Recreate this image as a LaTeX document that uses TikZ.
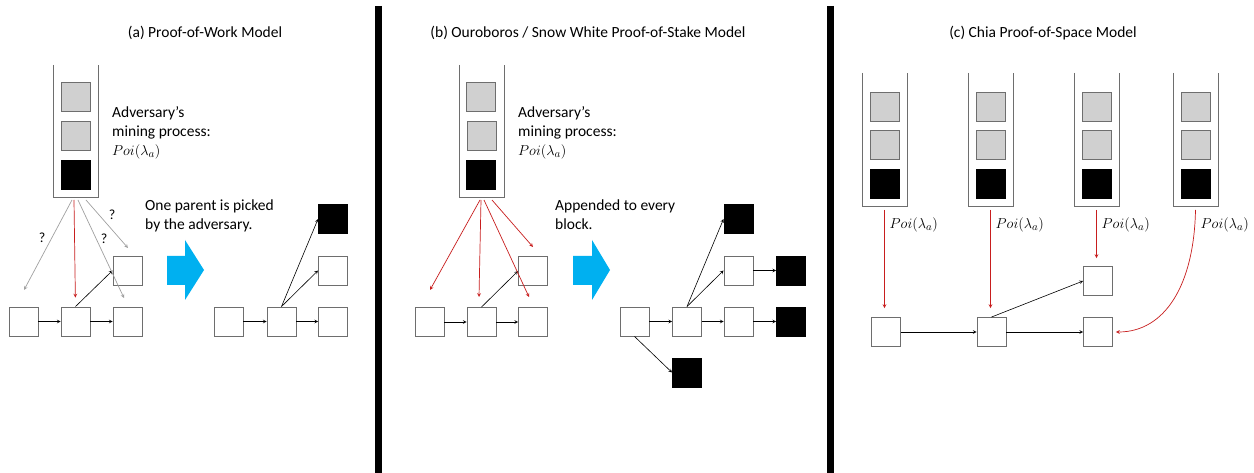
\documentclass[tikz,border=0pt]{standalone}
\usepackage{amsmath}
\usepackage{fontspec}
\setmainfont{Carlito}
\usepackage{tikz}
\usetikzlibrary{positioning,arrows,calc}

\definecolor{boxgray}{RGB}{208,208,208}
\definecolor{edgegray}{RGB}{110,110,110}
\definecolor{qgray}{RGB}{160,160,160}
\definecolor{pickred}{RGB}{200,30,30}
\definecolor{bigblue}{RGB}{0,176,240}

\newcommand{\poimath}{{\fontsize{15.5}{19}\selectfont$Poi(\lambda_a)$}}

\tikzset{
  block/.style={draw=edgegray, line width=0.9pt, fill=white, minimum size=29pt, inner sep=0pt},
  grayblock/.style={block, fill=boxgray},
  blackblock/.style={block, draw=black, fill=black},
  tube/.style={draw=edgegray, line width=1pt},
  link/.style={->, black, line width=0.6pt},
  redlink/.style={->, pickred, line width=0.7pt},
  graylink/.style={->, qgray, line width=0.7pt},
  title/.style={font=\fontsize{15.5}{18}\selectfont},
  note/.style={font=\fontsize{15.5}{19}\selectfont, align=left, anchor=north west, inner sep=0pt},
  poi/.style={font=\fontsize{15.5}{18}\selectfont, anchor=west, inner sep=0pt},
  qmark/.style={black, font=\fontsize{14}{16}\selectfont},
  divider/.style={line width=7pt, black},
  bigarrow/.style={fill=bigblue, draw=none}
}

\begin{document}
\begin{tikzpicture}[x=1pt,y=-1pt,>=stealth]
  \useasboundingbox (0,0) rectangle (1254,473);
  \fill[white] (0,0) rectangle (1254,473);

  % dividers
  \draw[divider] (378.5,6) -- (378.5,473);
  \draw[divider] (830.5,6) -- (830.5,473);

  % titles
  \node[title] (titlea) at (205,33) {(a) Proof-of-Work Model};
  \node[title] (titleb) at (588,33) {(b) Ouroboros / Snow White Proof-of-Stake Model};
  \node[title] (titlec) at (1043,33) {(c) Chia Proof-of-Space Model};

  %% (a) proof of work
  \draw[tube] (53,65) -- (53,198) -- (98,198) -- (98,65);
  \node[grayblock] (qa1) at (75.5,97) {};
  \node[grayblock] (qa2) at (75.5,136) {};
  \node[blackblock] (qa3) at (75.5,175) {};
  \node[note] (texta) at (112,106) {Adversary’s\\mining process:\\\poimath};

  \node[block] (a1) at (23.5,321.5) {};
  \node[block] (a2) at (75.5,321.5) {};
  \node[block] (a3) at (127.5,321.5) {};
  \node[block] (a4) at (127.5,270.5) {};
  \draw[link] (a1) -- (a2);
  \draw[link] (a2) -- (a3);
  \draw[link] (a2.north) -- (a4.west);

  \coordinate (sa1) at (72,200);
  \coordinate (sa2) at (74,200);
  \coordinate (sa3) at (78,200);
  \coordinate (sa4) at (86,200);
  \coordinate (ea1) at (24,290);
  \coordinate (ea3) at (124,298);
  \coordinate (ea4) at (128,248);
  \draw[graylink] (sa1) -- (ea1);
  \draw[redlink, shorten >=9pt] (sa2) -- (a2.north);
  \draw[graylink] (sa3) -- (ea3);
  \draw[graylink] (sa4) -- (ea4);
  \node[qmark] (qm1) at (42,238) {?};
  \node[qmark] (qm2) at (112,215) {?};
  \node[qmark] (qm3) at (104,239) {?};

  \fill[bigarrow] (167,256) -- (185,256) -- (185,240) -- (204,270) -- (185,300) -- (185,285) -- (167,285) -- cycle;
  \node[note] (picka) at (145,200) {One parent is picked\\by the adversary.};

  \node[block] (ra1) at (228.5,321.5) {};
  \node[block] (ra2) at (281.5,321.5) {};
  \node[block] (ra3) at (333,321.5) {};
  \node[block] (ra4) at (333,270.5) {};
  \node[blackblock] (ra5) at (333,219) {};
  \draw[link] (ra1) -- (ra2);
  \draw[link] (ra2) -- (ra3);
  \draw[link] (ra2.north) -- (ra4.west);
  \draw[link] (ra2.north) -- (ra5.west);

  %% (b) proof of stake
  \draw[tube] (459,65) -- (459,198) -- (504,198) -- (504,65);
  \node[grayblock] (qb1) at (481,97) {};
  \node[grayblock] (qb2) at (481.5,136) {};
  \node[blackblock] (qb3) at (481,175) {};
  \node[note] (textb) at (518,106) {Adversary’s\\mining process:\\\poimath};

  \node[block] (b1) at (429.5,322) {};
  \node[block] (b2) at (481.5,322) {};
  \node[block] (b3) at (533,322) {};
  \node[block] (b4) at (533,271) {};
  \draw[link] (b1) -- (b2);
  \draw[link] (b2) -- (b3);
  \draw[link] (b2.north) -- (b4.west);

  \coordinate (sb1) at (480,200);
  \coordinate (sb2) at (481,200);
  \coordinate (sb3) at (484,200);
  \coordinate (sb4) at (492,200);
  \coordinate (eb1) at (430,290);
  \coordinate (eb2) at (479,297);
  \coordinate (eb3) at (529,297);
  \coordinate (eb4) at (533,247);
  \draw[redlink] (sb1) -- (eb1);
  \draw[redlink] (sb2) -- (eb2);
  \draw[redlink] (sb3) -- (eb3);
  \draw[redlink] (sb4) -- (eb4);

  \fill[bigarrow] (573,256) -- (592,256) -- (592,240) -- (610,270) -- (592,300) -- (592,285) -- (573,285) -- cycle;
  \node[note] (appendb) at (555,200) {Appended to every\\block.};

  \node[block] (rb1) at (634.5,321.5) {};
  \node[block] (rb2) at (687,321.5) {};
  \node[block] (rb3) at (738.5,321.5) {};
  \node[blackblock] (rb4) at (791,321.5) {};
  \node[block] (rb5) at (738.5,270.5) {};
  \node[blackblock] (rb6) at (791,270.5) {};
  \node[blackblock] (rb7) at (738.5,219) {};
  \node[blackblock] (rb8) at (687,372.5) {};
  \draw[link] (rb1) -- (rb2);
  \draw[link] (rb2) -- (rb3);
  \draw[link] (rb3) -- (rb4);
  \draw[link] (rb5) -- (rb6);
  \draw[link] (rb2.north) -- (rb5.west);
  \draw[link] (rb2.north) -- (rb7.west);
  \draw[link] (rb1.south) -- (rb8.west);

  %% (c) proof of space
  \foreach \tx/\nm in {884.5/1, 990.5/2, 1096.5/3, 1195.5/4} {
    \draw[tube] (\tx-22.5,73) -- (\tx-22.5,207) -- (\tx+22.5,207) -- (\tx+22.5,73);
    \node[grayblock] (qc\nm a) at (\tx,107) {};
    \node[grayblock] (qc\nm b) at (\tx,145) {};
    \node[blackblock] (qc\nm c) at (\tx,184) {};
    \coordinate (sc\nm) at (\tx,210);
    \node[poi] (poic\nm) at (\tx+5,225) {\poimath};
  }

  \node[block] (c1) at (886,332) {};
  \node[block] (c2) at (991.5,332) {};
  \node[block] (c3) at (1098,281) {};
  \node[block] (c4) at (1098,332) {};
  \draw[link] (c1) -- (c2);
  \draw[link] (c2) -- (c4);
  \draw[link] (c2.north) -- (c3.west);

  \draw[redlink, shorten >=9pt] (sc1) -- (sc1 |- c1.north);
  \draw[redlink, shorten >=9pt] (sc2) -- (sc2 |- c2.north);
  \draw[redlink, shorten >=8pt] (sc3) -- (sc3 |- c3.north);
  \draw[redlink, shorten >=3pt] (sc4) .. controls (1194,285) and (1165,332) .. (c4.east);
\end{tikzpicture}
\end{document}
